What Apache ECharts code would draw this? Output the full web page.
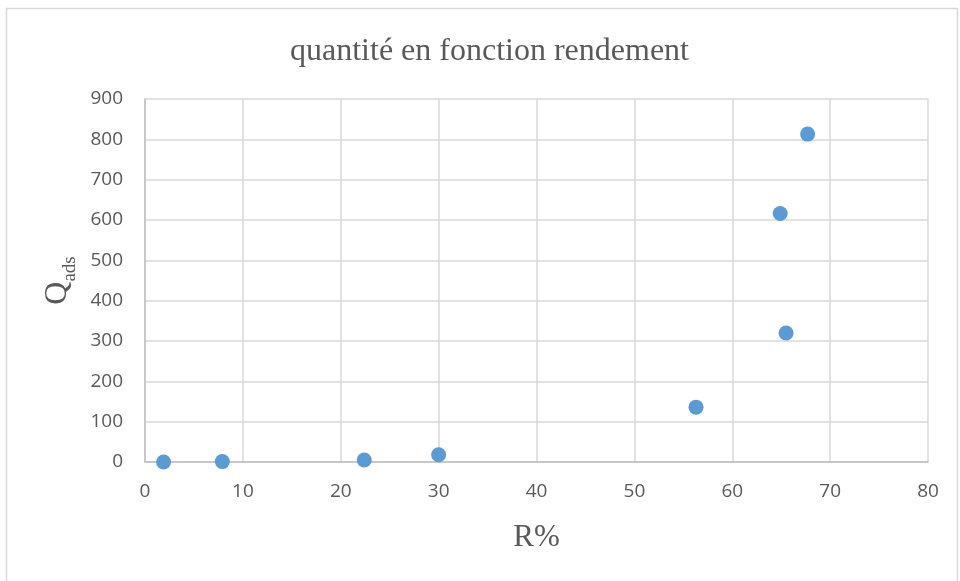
<!DOCTYPE html>
<html>
<head>
<meta charset="utf-8">
<script src="https://cdn.jsdelivr.net/npm/echarts@6/dist/echarts.min.js"></script>
<style>
  html, body { margin: 0; padding: 0; background: #fff; }
  #chart { width: 960px; height: 581px; }
</style>
</head>
<body>
<div id="chart"></div>
<script>
// rendement R% vs quantité adsorbée
const rendement = [1.9, 7.9, 22.4, 30.0, 56.3, 64.9, 65.5, 67.7];
const qads = [0, 1, 5, 18, 136, 616, 320, 813];

const xTicks = [0, 10, 20, 30, 40, 50, 60, 70, 80];
const yTicks = [0, 100, 200, 300, 400, 500, 600, 700, 800, 900];

const points = rendement.map((r, i) => [r, qads[i]]);

const chart = echarts.init(document.getElementById('chart'));

const tickFont = { color: '#595959', fontSize: 19, fontFamily: 'Open Sans' };

chart.setOption({
  animation: false,
  title: {
    text: 'quantité en fonction rendement',
    left: 285,
    top: 31,
    textStyle: { color: '#595959', fontSize: 32, fontWeight: 'normal', fontFamily: 'Liberation Serif' }
  },
  graphic: [{
    type: 'rect',
    shape: { x: 6.5, y: 8.5, width: 951, height: 600 },
    style: { fill: 'none', stroke: '#d9d9d9', lineWidth: 1.5 },
    silent: true
  }],
  grid: { left: 145, right: 32, top: 99, bottom: 119 },
  xAxis: {
    type: 'value',
    min: xTicks[0],
    max: xTicks[xTicks.length - 1],
    interval: 10,
    name: 'R%',
    nameLocation: 'middle',
    nameGap: 60,
    nameTextStyle: { color: '#595959', fontSize: 31, fontFamily: 'Liberation Serif' },
    axisLine: { show: true, lineStyle: { color: '#bfbfbf', width: 1.5 } },
    axisTick: { show: false },
    axisLabel: Object.assign({ margin: 20 }, tickFont),
    splitLine: { show: true, lineStyle: { color: '#d9d9d9', width: 1.5 } }
  },
  yAxis: {
    type: 'value',
    min: yTicks[0],
    max: yTicks[yTicks.length - 1],
    interval: 100,
    name: '{q|Q}{s|ads}',
    nameLocation: 'middle',
    nameGap: 56,
    nameRotate: 90,
    nameTextStyle: {
      rich: {
        q: { color: '#595959', fontSize: 32, fontFamily: 'Liberation Serif', lineHeight: 34, verticalAlign: 'bottom' },
        s: { color: '#595959', fontSize: 19, fontFamily: 'Liberation Serif', lineHeight: 34, verticalAlign: 'bottom', padding: [0, 0, -6, 0] }
      }
    },
    axisLine: { show: true, lineStyle: { color: '#bfbfbf', width: 1.5 } },
    axisTick: { show: false },
    axisLabel: Object.assign({ margin: 22 }, tickFont),
    splitLine: { show: true, lineStyle: { color: '#d9d9d9', width: 1.5 } }
  },
  series: [{
    type: 'scatter',
    data: points,
    symbolSize: 15,
    itemStyle: { color: '#5b9bd5', opacity: 1 }
  }]
});
</script>
</body>
</html>
